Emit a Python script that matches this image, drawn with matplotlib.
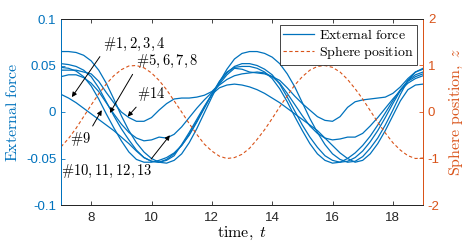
import matplotlib
matplotlib.use('Agg')
import matplotlib.pyplot as plt

plt.rcParams['mathtext.fontset'] = 'cm'
plt.rcParams['font.family'] = ['Liberation Sans', 'DejaVu Sans']

blue = (0.0, 0.447, 0.741)
orange = (0.85, 0.325, 0.098)

# time samples, 7 .. 19 every 0.25
t = [7 + 0.25 * i for i in range(49)]

# external force (distinct visible traces)
force_a = [.065, .065, .064, .061, .055, .045, .031, .014, -.004, -.020, -.033, -.043, -.050,
           -.054, -.055, -.052, -.045, -.033, -.018, -.001, .016, .032, .046, .057, .063,
           .065, .065, .063, .059, .052, .041, .027, .010, -.007, -.022, -.035, -.045, -.051,
           -.054, -.053, -.048, -.039, -.028, -.014, .002, .019, .034, .043, .047]
force_b = [.052, .051, .049, .045, .038, .026, .011, -.004, -.018, -.030, -.041, -.049, -.053,
           -.054, -.051, -.045, -.036, -.024, -.010, .005, .019, .032, .042, .049, .052,
           .052, .050, .046, .040, .030, .016, .001, -.014, -.027, -.038, -.047, -.052, -.054,
           -.053, -.049, -.042, -.032, -.020, -.006, .009, .023, .034, .040, .043]
force_14 = [.045, .045, .045, .043, .041, .033, .021, .010, .000, -.006, -.010, -.010, -.006,
            .002, .009, .014, .015, .015, .016, .018, .022, .030, .040, .047, .046,
            .043, .042, .041, .038, .034, .026, .017, .009, .002, -.005, -.009, -.010, -.005,
            .005, .011, .013, .014, .015, .016, .020, .027, .036, .043, .046]
force_d = [.038, .040, .040, .037, .031, .022, .010, -.002, -.013, -.022, -.028, -.031, -.030,
           -.027, -.028, -.024, -.016, -.006, .004, .013, .021, .029, .035, .039, .041,
           .042, .043, .042, .038, .031, .020, .008, -.004, -.015, -.023, -.028, -.030, -.029,
           -.027, -.027, -.023, -.015, -.006, .004, .014, .023, .031, .036, .039]
force_e = [.019, .015, .010, .004, -.002, -.008, -.014, -.020, -.027, -.034, -.042, -.049, -.053,
           -.054, -.052, -.047, -.035, -.022, -.008, .006, .019, .026, .029, .030, .029,
           .027, .024, .020, .015, .010, .004, -.002, -.008, -.014, -.020, -.028, -.036, -.044,
           -.050, -.054, -.052, -.045, -.034, -.020, -.004, .012, .024, .029, .030]
force_f = [.048, .047, .044, .038, .028, .014, -.002, -.017, -.031, -.043, -.051, -.054, -.054,
           -.052, -.049, -.044, -.036, -.025, -.011, .004, .019, .033, .043, .048, .049,
           .049, .047, .043, .036, .025, .011, -.005, -.020, -.034, -.045, -.052, -.055, -.054,
           -.050, -.044, -.036, -.026, -.014, -.001, .012, .024, .033, .038, .041]

# sphere position
sphere_z = [-0.75, -0.57, -0.35, -0.10, 0.15, 0.39, 0.60, 0.78, 0.91, 0.99, 1.00, 0.95, 0.84,
            0.68, 0.48, 0.24, 0.00, -0.25, -0.48, -0.69, -0.84, -0.95, -1.00, -0.98, -0.91,
            -0.78, -0.59, -0.38, -0.14, 0.11, 0.35, 0.58, 0.76, 0.90, 0.98, 1.00, 0.96, 0.86,
            0.70, 0.50, 0.28, 0.03, -0.22, -0.45, -0.66, -0.82, -0.94, -1.00, -0.99]

forces = [force_a, force_b, force_14, force_d, force_e, force_f]

x_ticks = [8, 10, 12, 14, 16, 18]
left_ticks = [-0.1, -0.05, 0, 0.05, 0.1]
left_labels = ['-0.1', '-0.05', '0', '0.05', '0.1']
right_ticks = [-2, -1, 0, 1, 2]
right_labels = ['-2', '-1', '0', '1', '2']

# label text, arrow tip (t, F), text centre (t, F), arrow start on text box
notes = [
    (r'$\#1,2,3,4$', (7.36, 0.016), (9.42, 0.073), (0.0, 0.0)),
    (r'$\#5,6,7,8$', (8.62, -0.001), (10.52, 0.054), (0.0, 0.1)),
    (r'$\#14$', (9.21, -0.005), (9.98, 0.019), (0.1, 0.0)),
    (r'$\#9$', (8.35, 0.002), (7.63, -0.029), (1.0, 1.0)),
    (r'$\#10,11,12,13$', (10.61, -0.025), (8.52, -0.064), (0.95, 1.0)),
]

fig = plt.figure(figsize=(4.68, 2.46), dpi=100)
ax = fig.add_axes([61 / 468, 1 - 205 / 246, 362 / 468, 186 / 246])
ax2 = ax.twinx()

lines = []
for i, f in enumerate(forces):
    ln, = ax.plot(t, f, color=blue, lw=0.9)
    if i == 0:
        lines.append(ln)
ln2, = ax2.plot(t, sphere_z, color=orange, lw=0.8, ls=(0, (3, 2.2)))
lines.append(ln2)

ax.set_xlim(7, 19)
ax.set_ylim(-0.1, 0.1)
ax2.set_ylim(-2, 2)
ax.set_xticks(x_ticks)
ax.set_yticks(left_ticks)
ax.set_yticklabels(left_labels)
ax2.set_yticks(right_ticks)
ax2.set_yticklabels(right_labels)

for a in (ax, ax2):
    a.tick_params(direction='in', length=3, width=0.6, labelsize=9.5, top=True)
    for s in a.spines.values():
        s.set_linewidth(0.7)
        s.set_color((0.15, 0.15, 0.15))
    a.spines['left'].set_color(blue)
    a.spines['right'].set_color(orange)
ax.tick_params(axis='y', colors=blue, right=False)
ax.tick_params(axis='x', colors=(0.15, 0.15, 0.15), pad=5)
ax2.tick_params(axis='y', colors=orange)

ax.set_xlabel(r'$\mathrm{time,}\ t$', fontsize=11.5, labelpad=1)
ax.set_ylabel(r'$\mathrm{External\ force}$', fontsize=11.5, color=blue, labelpad=4)
ax2.set_ylabel(r'$\mathrm{Sphere\ position,}\ z$', fontsize=11.5, color=orange, labelpad=6)

for label, tip, txt, rel in notes:
    ax.annotate(label, xy=tip, xytext=txt, textcoords='data', fontsize=10.5,
                ha='center', va='center', zorder=5,
                arrowprops=dict(arrowstyle='-|>', color='k', lw=0.7,
                                mutation_scale=7, shrinkA=1, shrinkB=0, relpos=rel))

leg = ax2.legend(lines, [r'$\mathrm{External\ force}$', r'$\mathrm{Sphere\ position}$'],
                 loc='upper right', fontsize=10, fancybox=False, framealpha=1,
                 edgecolor=(0.15, 0.15, 0.15), handlelength=2.2, borderpad=0.25,
                 labelspacing=0.15, borderaxespad=0.4, handletextpad=0.4)
leg.get_frame().set_linewidth(0.6)

fig.savefig('out.png', dpi=100)
